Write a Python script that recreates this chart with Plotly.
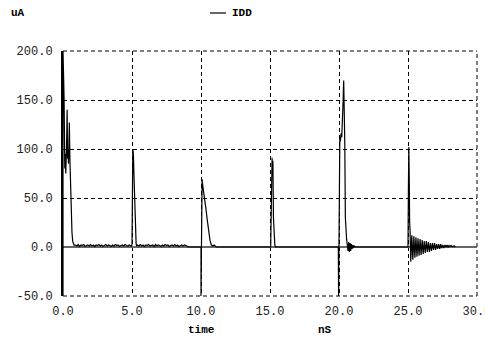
import plotly.graph_objects as go

# ---- data (time in nS, IDD in uA) ----
spike0_t = [0.0, 0.0, 0.02, 0.05, 0.08, 0.10, 0.13, 0.16, 0.20, 0.23, 0.26, 0.30, 0.33, 0.36,
            0.40, 0.43, 0.46, 0.50, 0.53, 0.56, 0.60, 0.65, 0.70, 0.75, 0.80]
spike0_v = [-50, 200, 195, 170, 150, 110, 80, 95, 75, 85, 105, 140, 90, 100,
            85, 110, 127, 90, 72, 85, 40, 15, 6, 3, 2]

noise1_start, noise1_step = 0.9, 0.1
noise1_v = [2, 1, 2.5, 0.5, 2, 1.5, 2.5, 0.5, 1.5, 2, 1, 2.5, 1, 2, 0.5, 2, 1.5, 2.5, 1, 2,
            0.5, 1.5, 2.5, 1, 2, 1.5, 0.5, 2, 1, 2.5, 1.5, 2, 0.5, 1.5, 2, 1, 2.5, 1.5, 1, 2]

spike5_t = [4.95, 5.00, 5.03, 5.06, 5.10, 5.15, 5.20, 5.25, 5.30, 5.35]
spike5_v = [1, 2, 60, 100, 95, 70, 40, 12, 3, 1]

noise2_start, noise2_step = 5.4, 0.1
noise2_v = [2, 1, 2.5, 1, 2, 0.5, 2, 1.5, 2.5, 1, 1.5, 2, 0.5, 2.5, 1, 2, 1.5, 0.5, 2, 1,
            2.5, 1.5, 2, 0.5, 1.5, 2, 1, 2.5, 1, 2, 0.5, 1.5, 2, 1, 2, 1.5, 1, 0]

spike10_t = [9.95, 10.0, 10.0, 10.02, 10.05, 10.08, 10.15, 10.25, 10.35, 10.45, 10.55,
             10.65, 10.75, 10.85, 10.95, 11.1, 15.05]
spike10_v = [0, 0, -50, 0, 66, 69, 60, 51, 40, 28, 16, 7, 2, 1, 2, 0, 0]

spike15_t = [15.08, 15.11, 15.13, 15.15, 15.18, 15.21, 15.25, 15.30, 15.35, 15.4, 19.95]
spike15_v = [40, 85, 70, 91, 75, 88, 30, 3, 2, 0, 0]

spike20_t = [19.97, 20.0, 20.03, 20.06, 20.1, 20.15, 20.2, 20.25, 20.3, 20.34, 20.38, 20.42,
             20.46, 20.5, 20.55, 20.6, 20.65, 20.7, 20.75, 20.8, 20.85, 20.9, 20.95, 21.0,
             21.05, 21.1, 21.2, 24.98]
spike20_v = [-50, 0, 100, 112, 108, 116, 112, 125, 150, 170, 140, 105, 30, 14, 8, 2,
             -4, 5, -5, 4, -4, 3, -2, 2, -1, 1, 0, 0]

spike25_t = [25.0, 25.03, 25.06, 25.09, 25.12, 25.15]
spike25_v = [0, 60, 102, 70, 25, 17]

ring_start, ring_step = 25.2, 0.075
ring_v = [-15, 12, -13, 11, -11, 10, -10, 9, -9, 8, -8, 7, -7, 6, -6, 6, -5, 5, -5, 4,
          -4, 4, -3, 4, -3, 3, -2, 3, -2, 3, -1, 2, -1, 2, 0, 2, 0, 1.5, 0.5, 1.5, 0.5, 1, 1, 0]

x_ticks = [0, 5, 10, 15, 20, 25, 30]
x_labels = ["0.0", "5.0", "10.0", "15.0", "20.0", "25.0", "30.0"]
y_ticks = [-50, 0, 50, 100, 150, 200]
y_labels = ["-50.0", "0.0", "50.0", "100.0", "150.0", "200.0"]

# ---- assemble waveform ----
t, v = [], []
t += spike0_t; v += spike0_v
t += [round(noise1_start + i * noise1_step, 4) for i in range(len(noise1_v))]; v += noise1_v
t += spike5_t; v += spike5_v
t += [round(noise2_start + i * noise2_step, 4) for i in range(len(noise2_v))]; v += noise2_v
t += spike10_t; v += spike10_v
t += spike15_t; v += spike15_v
t += spike20_t; v += spike20_v
t += spike25_t; v += spike25_v
t += [round(ring_start + i * ring_step, 4) for i in range(len(ring_v))]; v += ring_v

W, H = 485, 338
ML, MR, MT, MB = 63, 8, 51, 42
PW, PH = W - ML - MR, H - MT - MB

def px(x):
    return (x - ML) / PW

def py(y):
    return 1 - (y - MT) / PH

fig = go.Figure()
fig.add_trace(go.Scatter(x=t, y=v, mode="lines", name="IDD",
                         line=dict(color="black", width=1.2), showlegend=False))

mono = "Liberation Mono"
dash = "4px,3px"
grid = dict(showgrid=True, gridcolor="black", gridwidth=1, griddash=dash)

fig.update_xaxes(range=[0, 30], tickvals=x_ticks, ticktext=x_labels, zeroline=False,
                 showline=False, ticks="", ticklabelstandoff=6, ticklabeloverflow="allow",
                 automargin=False,
                 tickfont=dict(family=mono, size=12, color="#222"), **grid)
fig.update_yaxes(range=[-50, 200], tickvals=y_ticks, ticktext=y_labels,
                 zeroline=True, zerolinecolor="#666", zerolinewidth=1.5,
                 showline=True, linecolor="black", linewidth=2, ticks="", automargin=False,
                 ticklabelstandoff=6,
                 tickfont=dict(family=mono, size=12, color="#222"), **grid)

# dashed frame on top, right and bottom (grid lines at the range ends)
frame = [(0, 1, 1, 1), (1, 0, 1, 1), (0, 0, 1, 0)]
for x0, y0, x1, y1 in frame:
    fig.add_shape(type="line", xref="paper", yref="paper", x0=x0, y0=y0, x1=x1, y1=y1,
                  line=dict(color="black", width=1, dash=dash), layer="below")

# legend key line for IDD
fig.add_shape(type="line", xref="paper", yref="paper", x0=px(210), x1=px(226),
              y0=py(13), y1=py(13), line=dict(color="black", width=1.2))

ann_font = dict(family=mono, size=11, color="black", weight="bold")
annotations = [
    dict(text="uA", x=px(18), y=py(13)),
    dict(text="IDD", x=px(242), y=py(13)),
    dict(text="time", x=px(201), y=py(330)),
    dict(text="nS", x=px(325), y=py(330)),
]
for a in annotations:
    fig.add_annotation(xref="paper", yref="paper", showarrow=False,
                       xanchor="center", yanchor="middle", font=ann_font, **a)

fig.update_layout(width=W, height=H, autosize=False,
                  margin=dict(l=ML, r=MR, t=MT, b=MB, autoexpand=False),
                  paper_bgcolor="white", plot_bgcolor="white")

fig.write_html("out.html", config={"displayModeBar": False},
               post_script="document.body.style.margin='0';document.body.style.overflow='hidden';")
